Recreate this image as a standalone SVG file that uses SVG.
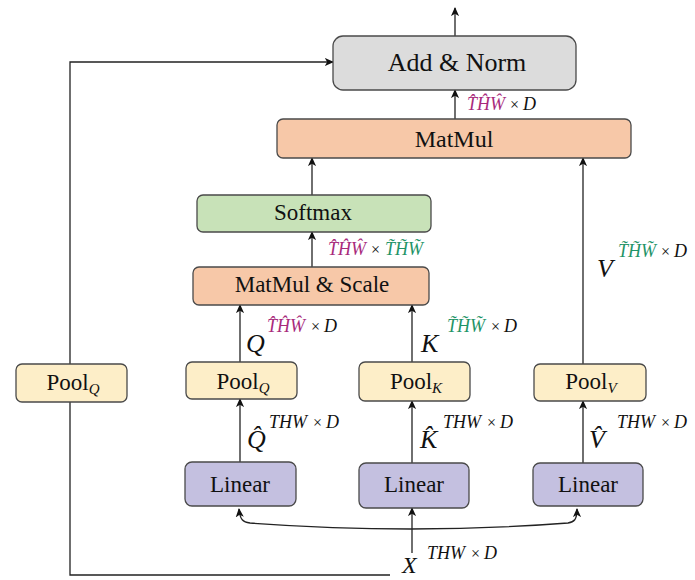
<svg xmlns="http://www.w3.org/2000/svg" width="695" height="580" viewBox="0 0 695 580">
  <defs>
    <marker id="arrow" viewBox="0 0 10 10" refX="9" refY="5" markerWidth="9" markerHeight="9" markerUnits="userSpaceOnUse" orient="auto-start-reverse">
      <path d="M0,0.5 L10,5 L0,9.5 L2.5,5 Z" fill="#111"/>
    </marker>
    <style>
      .box { stroke: #4a4a4a; stroke-width: 1.3; }
      .norm { fill: #dcdcdc; }
      .mm { fill: #f7c8a8; }
      .soft { fill: #c8e2b8; }
      .pool { fill: #fdeec8; }
      .lin { fill: #c4c0e0; }
      .lbl { font-family: "Liberation Serif", "Times New Roman", serif; fill: #111; text-anchor: middle; }
      .sub { font-style: italic; font-size: 15px; }
      .math { font-family: "Liberation Serif", "Times New Roman", serif; font-style: italic; fill: #111; }
      .big { font-size: 26px; }
      .sup { font-size: 18px; }
      .up { font-style: normal; font-size: 16px; }
      .mag { fill: #a82a7c; }
      .grn { fill: #1f9468; }
      .wire { fill: none; stroke: #222; stroke-width: 1.3; }
    </style>
  </defs>

  <!-- connectors -->
  <g id="connectors">
    <path class="wire" d="M455 36 V8" marker-end="url(#arrow)"/>
    <path class="wire" d="M455 119 V90" marker-end="url(#arrow)"/>
    <path class="wire" d="M312 195 V158" marker-end="url(#arrow)"/>
    <path class="wire" d="M312 267 V232" marker-end="url(#arrow)"/>
    <path class="wire" d="M240 362 V305" marker-end="url(#arrow)"/>
    <path class="wire" d="M412 362 V305" marker-end="url(#arrow)"/>
    <path class="wire" d="M583 364 V158" marker-end="url(#arrow)"/>
    <path class="wire" d="M240 462 V399" marker-end="url(#arrow)"/>
    <path class="wire" d="M412 463 V401" marker-end="url(#arrow)"/>
    <path class="wire" d="M583 463 V401" marker-end="url(#arrow)"/>
    <path class="wire" d="M412 553 V508" marker-end="url(#arrow)"/>
    <path class="wire" d="M239 509 C240 520 243 522 250 523 Q412 535 568 523 C574 522 577 520 577 509" marker-start="url(#arrow)" marker-end="url(#arrow)"/>
    <path class="wire" d="M390 575 H70 V62 H333" marker-end="url(#arrow)"/>
  </g>

  <!-- nodes -->
  <g id="add-norm">
    <rect class="box norm" x="333" y="36" width="243" height="54" rx="10"/>
    <text class="lbl" x="457" y="71" font-size="26">Add &amp; Norm</text>
  </g>
  <g id="matmul">
    <rect class="box mm" x="277" y="119" width="354" height="39" rx="6"/>
    <text class="lbl" x="454" y="147" font-size="24">MatMul</text>
  </g>
  <g id="softmax">
    <rect class="box soft" x="197" y="195" width="234" height="37" rx="6"/>
    <text class="lbl" x="313" y="220" font-size="23">Softmax</text>
  </g>
  <g id="matmul-scale">
    <rect class="box mm" x="193" y="267" width="236" height="38" rx="6"/>
    <text class="lbl" x="312" y="292" font-size="23">MatMul &amp; Scale</text>
  </g>
  <g id="pool-q-side">
    <rect class="box pool" x="16" y="364" width="111" height="38" rx="6"/>
    <text class="lbl" x="73" y="390" font-size="23">Pool<tspan class="sub" dy="4">Q</tspan></text>
  </g>
  <g id="pool-q">
    <rect class="box pool" x="186" y="362" width="111" height="37" rx="6"/>
    <text class="lbl" x="243" y="389" font-size="23">Pool<tspan class="sub" dy="4">Q</tspan></text>
  </g>
  <g id="pool-k">
    <rect class="box pool" x="359" y="362" width="111" height="39" rx="6"/>
    <text class="lbl" x="416" y="389" font-size="23">Pool<tspan class="sub" dy="4">K</tspan></text>
  </g>
  <g id="pool-v">
    <rect class="box pool" x="534" y="364" width="112" height="37" rx="6"/>
    <text class="lbl" x="591" y="389" font-size="23">Pool<tspan class="sub" dy="4">V</tspan></text>
  </g>
  <g id="linear-q">
    <rect class="box lin" x="185" y="462" width="111" height="44" rx="7"/>
    <text class="lbl" x="240" y="492" font-size="23">Linear</text>
  </g>
  <g id="linear-k">
    <rect class="box lin" x="359" y="463" width="110" height="45" rx="7"/>
    <text class="lbl" x="414" y="492" font-size="23">Linear</text>
  </g>
  <g id="linear-v">
    <rect class="box lin" x="533" y="463" width="110" height="43" rx="7"/>
    <text class="lbl" x="588" y="492" font-size="23">Linear</text>
  </g>

  <!-- tensor shape labels -->
  <g id="labels">
    <text class="math sup" x="467" y="110"><tspan class="mag">T̂ĤŴ</tspan><tspan class="up" dx="5">×</tspan><tspan dx="4">D</tspan></text>
    <text class="math sup" x="328" y="255"><tspan class="mag">T̂ĤŴ</tspan><tspan class="up" dx="5">×</tspan><tspan class="grn" dx="5">T̃H̃W̃</tspan></text>
    <text class="math big" x="597" y="277">V</text>
    <text class="math sup" x="618" y="257"><tspan class="grn">T̃H̃W̃</tspan><tspan class="up" dx="5">×</tspan><tspan dx="4">D</tspan></text>

    <text class="math big" x="246" y="352">Q</text>
    <text class="math sup" x="267" y="332"><tspan class="mag">T̂ĤŴ</tspan><tspan class="up" dx="6">×</tspan><tspan dx="4">D</tspan></text>
    <text class="math big" x="421" y="352">K</text>
    <text class="math sup" x="447" y="332"><tspan class="grn">T̃H̃W̃</tspan><tspan class="up" dx="6">×</tspan><tspan dx="4">D</tspan></text>

    <text class="math big" x="247" y="448">Q̂</text>
    <text class="math sup" x="269" y="428">THW<tspan class="up" dx="6">×</tspan><tspan dx="4">D</tspan></text>
    <text class="math big" x="420" y="448">K̂</text>
    <text class="math sup" x="443" y="428">THW<tspan class="up" dx="6">×</tspan><tspan dx="4">D</tspan></text>
    <text class="math big" x="589" y="448">V̂</text>
    <text class="math sup" x="617" y="428">THW<tspan class="up" dx="6">×</tspan><tspan dx="4">D</tspan></text>

    <text class="math" x="402" y="573" font-size="24">X</text>
    <text class="math sup" x="427" y="559">THW<tspan class="up" dx="6">×</tspan><tspan dx="4">D</tspan></text>
  </g>
</svg>
